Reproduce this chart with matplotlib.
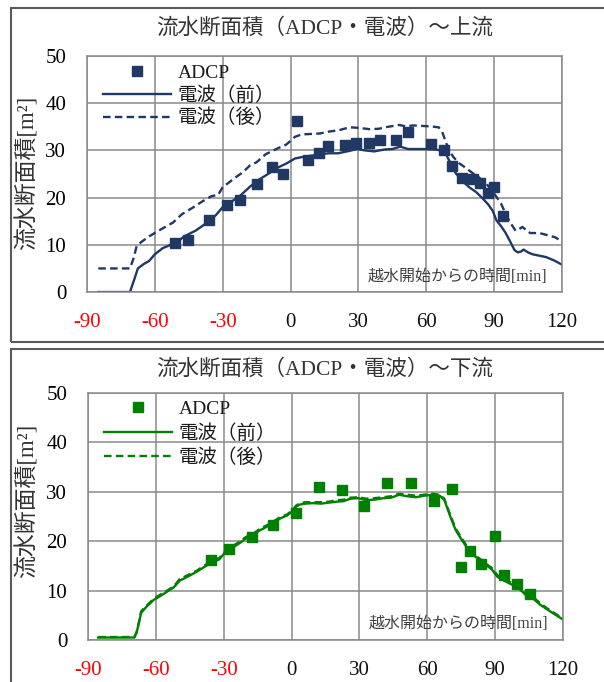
import matplotlib
matplotlib.use('Agg')
import matplotlib.pyplot as plt
from matplotlib.patches import Rectangle

jp = ['Liberation Serif', 'Noto Sans CJK JP']
plt.rcParams['font.family'] = jp

# upstream (上流)
up_adcp_t = [-51.1, -45.3, -36.2, -28.2, -22.3, -15.0, -8.2, -3.2, 2.7, 7.8, 12.7, 16.7,
             24.0, 28.9, 34.8, 39.7, 46.8, 51.8, 62.0, 67.9, 71.6, 75.8, 80.6, 83.9,
             87.1, 89.9, 93.8]
up_adcp_a = [10.3, 11.0, 15.2, 18.5, 19.4, 22.9, 26.4, 25.0, 36.3, 27.9, 29.5, 31.0,
             31.2, 31.6, 31.6, 32.3, 32.2, 34.0, 31.4, 30.0, 26.8, 24.2, 24.0, 23.1,
             20.9, 22.2, 16.1]
up_pre_t = [-85, -71, -69, -67.5, -65, -62.5, -60, -56.5, -53, -50.5, -47, -44.5, -42, -39,
            -36, -33, -30, -26, -22.5, -18, -14, -10, -5.5, -2, 2, 5, 9.5, 13, 17, 21, 25,
            29.5, 33, 37, 41.5, 45, 48.5, 52, 56, 60, 64, 66.5, 68.5, 70, 71.5, 73, 76, 79,
            82, 85, 87.5, 89.5, 91, 93, 95, 97, 99, 100.5, 102, 103, 105, 107, 110, 113,
            116.5, 120]
up_pre_a = [0, 0, 2.8, 5.0, 5.9, 6.6, 8.0, 9.3, 10.0, 10.5, 11.8, 12.4, 13.0, 14.0, 15.0,
            16.3, 18.0, 19.2, 20.3, 22.3, 23.8, 25.0, 26.4, 27.2, 28.3, 28.6, 28.9, 29.2,
            29.4, 29.4, 29.8, 30.3, 30.0, 29.8, 30.2, 30.3, 30.8, 30.3, 30.3, 30.3, 30.2,
            30.0, 29.4, 28.0, 26.6, 25.2, 23.5, 22.2, 21.2, 19.8, 18.5, 17.1, 15.2, 14.0,
            12.6, 10.8, 8.9, 8.4, 8.6, 9.0, 8.4, 8.0, 7.7, 7.4, 6.7, 5.8]
up_post_t = [-85, -71, -69.5, -68, -66, -62.5, -59, -56.5, -52, -48, -43.5, -39, -35, -32,
             -30, -27, -24, -21, -18, -15, -11, -8, -5, -2, 2, 5, 9.5, 13, 17, 21.5, 26, 30,
             35, 39, 43, 48, 51, 54, 58, 62, 65.5, 67, 68.5, 70, 72, 74.5, 77.5, 80.5, 83.5,
             86.5, 89, 91, 93, 95, 97, 99.5, 101, 102.5, 104, 106, 110, 114, 117, 120]
up_post_a = [5, 5, 7, 9.8, 10.6, 11.8, 12.8, 13.5, 14.7, 16.5, 17.8, 19.2, 20.3, 20.6,
             22.2, 23.3, 24.4, 25.4, 26.8, 27.5, 29.2, 29.9, 30.6, 31.2, 32.9, 33.4, 33.5,
             33.6, 34.0, 34.3, 34.9, 34.8, 34.5, 34.6, 35.0, 35.4, 35.1, 35.3, 35.2, 35.1,
             34.9, 34.0, 32.0, 30.1, 28.6, 27.3, 26.3, 25.2, 24.2, 23.0, 21.5, 20.2, 18.8,
             16.7, 14.8, 13.0, 13.3, 13.8, 13.2, 12.5, 12.5, 12.0, 11.6, 10.7]

# downstream (下流)
dn_adcp_t = [-35.4, -27.6, -17.3, -8.2, 1.8, 12.0, 22.1, 32.1, 42.0, 53.0, 62.9, 71.0,
             75.1, 78.7, 83.9, 90.1, 93.8, 99.7, 105.6]
dn_adcp_a = [16.1, 18.4, 20.8, 23.3, 25.8, 31.0, 30.4, 27.1, 31.8, 31.7, 28.1, 30.6,
             14.8, 18.1, 15.4, 21.1, 13.2, 11.3, 9.3]
dn_t = [-85.5, -69.5, -68.5, -67.5, -66.5, -64, -61, -58, -55, -52, -49.5, -46, -42, -38.5,
        -35, -32, -29, -26, -23, -20, -17, -14, -11, -8, -5, -2, 0.5, 2, 3.5, 6, 9.5, 13,
        16.5, 20, 23, 26, 29.5, 33, 36.5, 40.5, 44, 47.5, 51, 55, 58.5, 62.5, 65.5, 67.5,
        69, 70.5, 72.5, 74.5, 76.5, 79, 81.5, 84, 86, 88.5, 91, 94, 97, 99.5, 102, 104,
        107, 110, 113, 116, 120.5]
dn_pre_a = [0.5, 0.5, 1.5, 3.5, 5.5, 6.8, 8.1, 8.9, 9.8, 10.7, 12.0, 12.8, 13.8, 14.8,
            15.8, 16.3, 17.9, 18.7, 19.6, 20.6, 21.3, 22.2, 22.9, 23.8, 24.6, 25.2, 26.1,
            27.0, 27.4, 27.6, 27.7, 27.6, 27.8, 28.0, 28.1, 28.6, 28.7, 28.3, 28.4, 28.7,
            28.8, 29.4, 29.1, 28.9, 29.2, 29.4, 29.2, 28.4, 26.5, 24.6, 22.3, 20.8, 19.4,
            17.6, 16.8, 15.9, 15.2, 14.3, 12.8, 12.0, 11.3, 10.8, 9.8, 8.9, 8.3, 7.1, 6.2,
            5.3, 4.0]
dn_post_a = [0.6, 0.6, 1.6, 3.6, 5.8, 7.0, 8.3, 9.2, 10.0, 10.9, 12.3, 13.1, 14.0, 15.1,
             16.0, 16.6, 18.1, 19.0, 19.9, 20.9, 21.5, 22.5, 23.2, 24.0, 24.9, 25.4, 26.3,
             27.2, 27.6, 27.9, 27.9, 27.9, 28.0, 28.3, 28.4, 28.8, 28.9, 28.6, 28.7, 28.9,
             29.1, 29.6, 29.4, 29.2, 29.4, 29.6, 29.4, 28.6, 26.7, 24.9, 22.6, 21.1, 19.7,
             17.9, 17.0, 16.2, 15.4, 14.6, 13.1, 12.3, 11.6, 11.0, 10.1, 9.2, 8.6, 7.4, 6.4,
             5.5, 4.2]

xticks = [-90, -60, -30, 0, 30, 60, 90, 120]
yticks = [0, 10, 20, 30, 40, 50]
labels = ['ADCP', '電波（前）', '電波（後）']

fig = plt.figure(figsize=(6.04, 6.82), dpi=100)

# chart frames
fig.patches.append(Rectangle((0.0182, 0.4985), 1.0, 0.4898, transform=fig.transFigure,
                             fill=False, edgecolor='#5a5a5a', linewidth=1.5))
fig.patches.append(Rectangle((0.0182, -0.02), 1.0, 0.5083, transform=fig.transFigure,
                             fill=False, edgecolor='#5a5a5a', linewidth=1.5))


def panel(rect, color, adcp_t, adcp_a, pre_t, pre_a, post_t, post_a, title, title_y,
          ylab_y, lspace, lanchor):
    ax = fig.add_axes(rect)
    l1, = ax.plot(pre_t, pre_a, color=color, lw=1.7)
    l2, = ax.plot(post_t, post_a, color=color, lw=1.7, dashes=(3.2, 1.8))
    m, = ax.plot(adcp_t, adcp_a, 's', color=color, ms=7, ls='none')
    ax.set_xlim(-90, 120)
    ax.set_ylim(0, 50)
    ax.set_xticks(xticks)
    ax.set_yticks(yticks)
    ax.set_xticklabels([str(v) for v in xticks], fontsize=15)
    ax.set_yticklabels([str(v) for v in yticks], fontsize=15)
    for lab, v in zip(ax.get_xticklabels(), xticks):
        lab.set_color('red' if v < 0 else '#111111')
    ax.tick_params(axis='x', length=0, pad=15)
    ax.tick_params(axis='y', length=0, pad=15)
    ax.grid(True, color='#8a8a8a', lw=1.1)
    ax.set_axisbelow(True)
    for s in ax.spines.values():
        s.set_color('#8a8a8a')
        s.set_linewidth(1.1)
    ax.legend([m, l1, l2], labels, loc='upper left', bbox_to_anchor=(0.025, lanchor),
              frameon=False, fontsize=14, handlelength=3.5, handletextpad=0.35,
              labelspacing=lspace, borderaxespad=0.0, borderpad=0.2, labelcolor='#1a1a1a')
    ax.text(0.97, 0.065, '越水開始からの時間[min]', transform=ax.transAxes, ha='right',
            va='center', fontsize=11.5, color='#404040')
    fig.text(0.538, title_y, title, ha='center', va='center', fontsize=15.5, color='#333333')
    fig.text(0.045, ylab_y, '流水断面積[m²]', rotation=90, ha='center', va='center',
             fontsize=16.5, color='#333333')
    return ax


panel([0.1440, 0.5718, 0.7864, 0.3460], '#1f3864', up_adcp_t, up_adcp_a,
      up_pre_t, up_pre_a, up_post_t, up_post_a, '流水断面積（ADCP・電波）〜上流', 0.959, 0.746,
      0.2, 0.98)
panel([0.1457, 0.0616, 0.7864, 0.3622], '#008000', dn_adcp_t, dn_adcp_a,
      dn_t, dn_pre_a, dn_t, dn_post_a, '流水断面積（ADCP・電波）〜下流', 0.459, 0.265,
      0.3, 0.985)

fig.savefig('out.png', dpi=100)
